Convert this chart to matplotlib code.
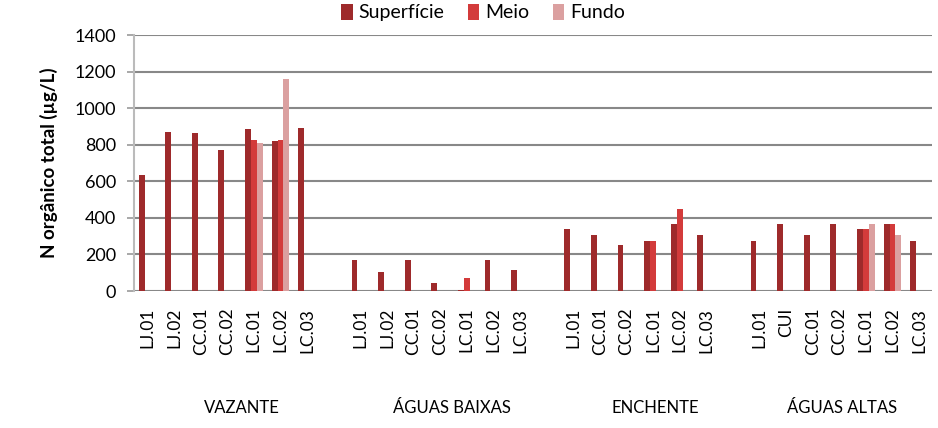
import matplotlib
matplotlib.use("Agg")
import matplotlib.pyplot as plt
import numpy as np

plt.rcParams['font.family'] = ['Lato', 'DejaVu Sans']

# slot labels (blank slots separate the campaigns)
labels = ['LJ.01', 'LJ.02', 'CC.01', 'CC.02', 'LC.01', 'LC.02', 'LC.03', '',
          'LJ.01', 'LJ.02', 'CC.01', 'CC.02', 'LC.01', 'LC.02', 'LC.03', '',
          'LJ.01', 'CC.01', 'CC.02', 'LC.01', 'LC.02', 'LC.03', '',
          'LJ.01', 'CUI', 'CC.01', 'CC.02', 'LC.01', 'LC.02', 'LC.03']

campaigns = ['VAZANTE', 'ÁGUAS BAIXAS', 'ENCHENTE', 'ÁGUAS ALTAS']
campaign_slots = [3.55, 11.45, 19.1, 26.1]

superficie = [635, 870, 866, 771, 886, 822, 891, 0,
              168, 102, 168, 44, 5, 168, 113, 0,
              339, 306, 251, 273, 368, 306, 0,
              273, 368, 306, 368, 339, 368, 273]
meio = [0, 0, 0, 0, 826, 826, 0, 0,
        0, 0, 0, 0, 71, 0, 0, 0,
        0, 0, 0, 273, 448, 0, 0,
        0, 0, 0, 0, 339, 368, 0]
fundo = [0, 0, 0, 0, 811, 1159, 0, 0,
         0, 0, 0, 0, 0, 0, 0, 0,
         0, 0, 0, 0, 0, 0, 0,
         0, 0, 0, 0, 368, 306, 0]

fig = plt.figure(figsize=(9.38, 4.28), dpi=100)
ax = fig.add_axes([0.143, 0.320, 0.851, 0.598])

x = np.arange(len(labels))
w = 0.22
ax.bar(x - w, superficie, w, color='#9e2a2b', label='Superfície', zorder=3)
ax.bar(x, meio, w, color='#d33b3b', label='Meio', zorder=3)
ax.bar(x + w, fundo, w, color='#dba0a0', label='Fundo', zorder=3)

ax.set_xlim(-0.5, len(labels) - 0.5)
ax.set_ylim(0, 1400)
ax.set_yticks(np.arange(0, 1401, 200))
ax.tick_params(axis='y', labelsize=13, length=5, width=1.2, color='#999999', pad=8)
ax.yaxis.grid(True, color='#888888', linewidth=1.5, zorder=0)

ax.set_xticks(x)
ax.set_xticklabels(labels, rotation=90, fontsize=12.5)
ax.tick_params(axis='x', length=0, pad=12)

for side in ['top', 'right', 'bottom']:
    ax.spines[side].set_visible(False)
ax.spines['left'].set_color('#bbbbbb')
ax.spines['left'].set_linewidth(1.5)

ax.set_ylabel('N orgânico total (µg/L)', fontsize=13.5, fontweight='bold', labelpad=12)

for name, pos in zip(campaigns, campaign_slots):
    ax.text(pos, -640, name, ha='center', va='center', fontsize=12)

ax.legend(loc='lower center', bbox_to_anchor=(0.437, 0.985), ncol=3, frameon=False,
          fontsize=14, handlelength=0.6, handleheight=0.9, handletextpad=0.3,
          columnspacing=1.2)

fig.savefig('out.png', dpi=100)
